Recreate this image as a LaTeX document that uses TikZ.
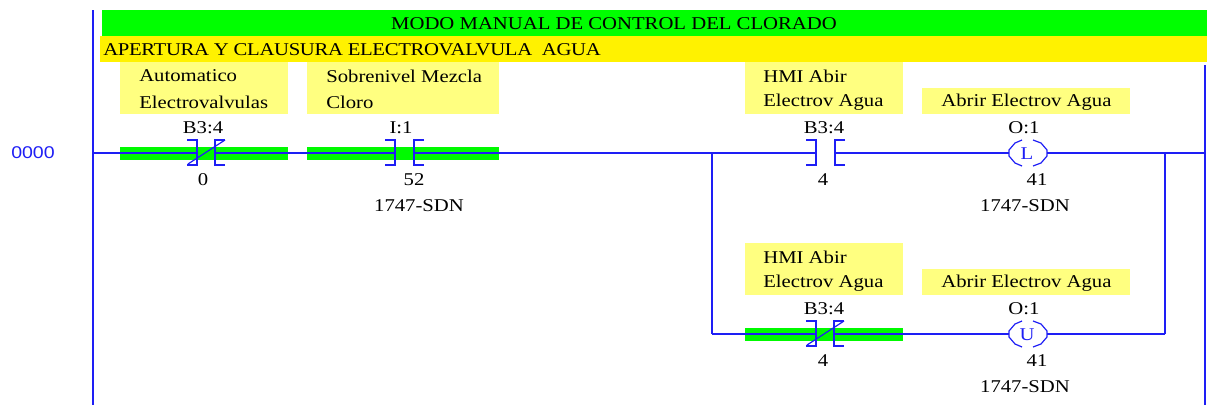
\documentclass[tikz,border=0pt]{standalone}
\usepackage{fontspec}
\setmainfont[FakeStretch=1.15]{Liberation Serif}
\newfontfamily\rungfont[FakeStretch=1.15]{Liberation Sans}
\usetikzlibrary{positioning}
\definecolor{wire}{RGB}{30,30,245}
\definecolor{tagfill}{RGB}{255,255,128}
\definecolor{onfill}{RGB}{0,250,0}

\begin{document}
\begin{tikzpicture}[x=1pt,y=-1pt,semithick,
    wire/.style={draw=wire,line width=1.2pt},
    txt/.style={inner sep=0pt,yshift=-1pt,font=\fontsize{18}{20}\selectfont},
    band/.style={fill=#1,draw=none},
    contactno/.pic={
      \coordinate (l) at (-9,0);
      \coordinate (r) at (10,0);
      \draw[wire] (-19,-13) -- (-9,-13) -- (-9,12) -- (-19,12);
      \draw[wire] (20,-13) -- (10,-13) -- (10,12) -- (20,12);
    },
    contactnc/.pic={
      \coordinate (l) at (-6,0);
      \coordinate (r) at (12,0);
      \draw[wire] (-16,-13) -- (-6,-13) -- (-6,12) -- (-16,12);
      \draw[wire] (22,-13) -- (12,-13) -- (12,12) -- (22,12);
      \draw[wire] (-15,11) -- (22,-13);
    },
    coilout/.pic={
      \coordinate (l) at (-19,0);
      \coordinate (r) at (19,0);
      \draw[wire] (-6,-13) -- (-13,-10) -- (-19,-3) -- (-19,3) -- (-13,10) -- (-6,13);
      \draw[wire] (5,-13) -- (13,-10) -- (19,-3) -- (19,3) -- (13,10) -- (5,13);
    }]
  \useasboundingbox (0,0) rectangle (1207,405);

  % bands
  \fill[band=green] (102,10) rectangle (1207,36);
  \fill[band=yellow] (100,36) rectangle (1207,62);
  \node[txt] (titulo) at (614,23) {MODO MANUAL DE CONTROL DEL CLORADO};
  \node[txt,anchor=west] (subtitulo) at (103,49) {\addfontfeature{LetterSpace=-1.8}APERTURA Y CLAUSURA ELECTROVALVULA\ \ AGUA};

  % tag backgrounds
  \fill[band=tagfill] (120,62) rectangle (288,114);
  \fill[band=tagfill] (307,62) rectangle (499,114);
  \fill[band=tagfill] (745,62) rectangle (903,114);
  \fill[band=tagfill] (922,88) rectangle (1130,114);
  \fill[band=tagfill] (745,243) rectangle (903,295);
  \fill[band=tagfill] (922,269) rectangle (1130,295);

  % true state
  \fill[band=onfill] (120,147) rectangle (288,160);
  \fill[band=onfill] (307,147) rectangle (499,160);
  \fill[band=onfill] (745,328) rectangle (903,341);

  % tags
  \node[txt,anchor=west] (t1a) at (139,75) {Automatico};
  \node[txt,anchor=west] (t1b) at (139,101) {Electrovalvulas};
  \node[txt,anchor=west] (t2a) at (326,75) {Sobrenivel Mezcla};
  \node[txt,anchor=west] (t2b) at (326,101) {Cloro};
  \node[txt,anchor=west] (t3a) at (763,75) {HMI Abir};
  \node[txt,anchor=west] (t3b) at (763,101) {Electrov Agua};
  \node[txt,anchor=west] (t4a) at (941,101) {Abrir Electrov Agua};
  \node[txt,anchor=west] (t5a) at (763,256) {HMI Abir};
  \node[txt,anchor=west] (t5b) at (763,282) {Electrov Agua};
  \node[txt,anchor=west] (t6a) at (941,282) {Abrir Electrov Agua};

  % addresses
  \node[txt] (a1) at (203,127) {B3:4};
  \node[txt] (b1) at (203,179) {0};
  \node[txt] (a2) at (401,127) {I:1};
  \node[txt] (b2) at (414,179) {52};
  \node[txt] (m2) at (419,205) {1747-SDN};
  \node[txt] (a3) at (824,127) {B3:4};
  \node[txt] (b3) at (823,179) {4};
  \node[txt] (a4) at (1024,127) {O:1};
  \node[txt] (b4) at (1037,179) {41};
  \node[txt] (m4) at (1025,205) {1747-SDN};
  \node[txt] (a5) at (824,308) {B3:4};
  \node[txt] (b5) at (823,360) {4};
  \node[txt] (a6) at (1024,308) {O:1};
  \node[txt] (b6) at (1037,360) {41};
  \node[txt] (m6) at (1025,386) {1747-SDN};
  \node[inner sep=0pt,text=wire,font=\rungfont\fontsize{17}{19}\selectfont] (rung) at (33,153) {0000};

  % symbols
  \pic (c1) at (203,153) {contactnc};
  \pic (c2) at (404,153) {contactno};
  \pic (c3) at (825,153) {contactno};
  \pic (c4) at (1028,153) {coilout};
  \pic (c5) at (822,334) {contactnc};
  \pic (c6) at (1028,334) {coilout};
  \node[txt,text=wire] (ll) at (1027,153) {L};
  \node[txt,text=wire] (uu) at (1027,334) {U};

  % rails
  \coordinate (railtop) at (93,10);
  \coordinate (railbot) at (93,405);
  \coordinate (rtop) at (1205,65);
  \coordinate (rbot) at (1205,405);
  \coordinate (s0) at (93,153);
  \coordinate (s1) at (1205,153);
  \coordinate (ja) at (712,153);
  \coordinate (jb) at (1165,153);
  \coordinate (ka) at (712,334);
  \coordinate (kb) at (1165,334);

  \path[wire] (railtop) edge (railbot)
        (rtop) edge (rbot)
        (s0) edge (c1l)
        (c1r) edge (c2l)
        (c2r) edge (ja)
        (ja) edge (c3l)
        (c3r) edge (c4l)
        (c4r) edge (jb)
        (jb) edge (s1)
        (ja) edge (ka)
        (ka) edge (c5l)
        (c5r) edge (c6l)
        (c6r) edge (kb)
        (kb) edge (jb);
\end{tikzpicture}
\end{document}
